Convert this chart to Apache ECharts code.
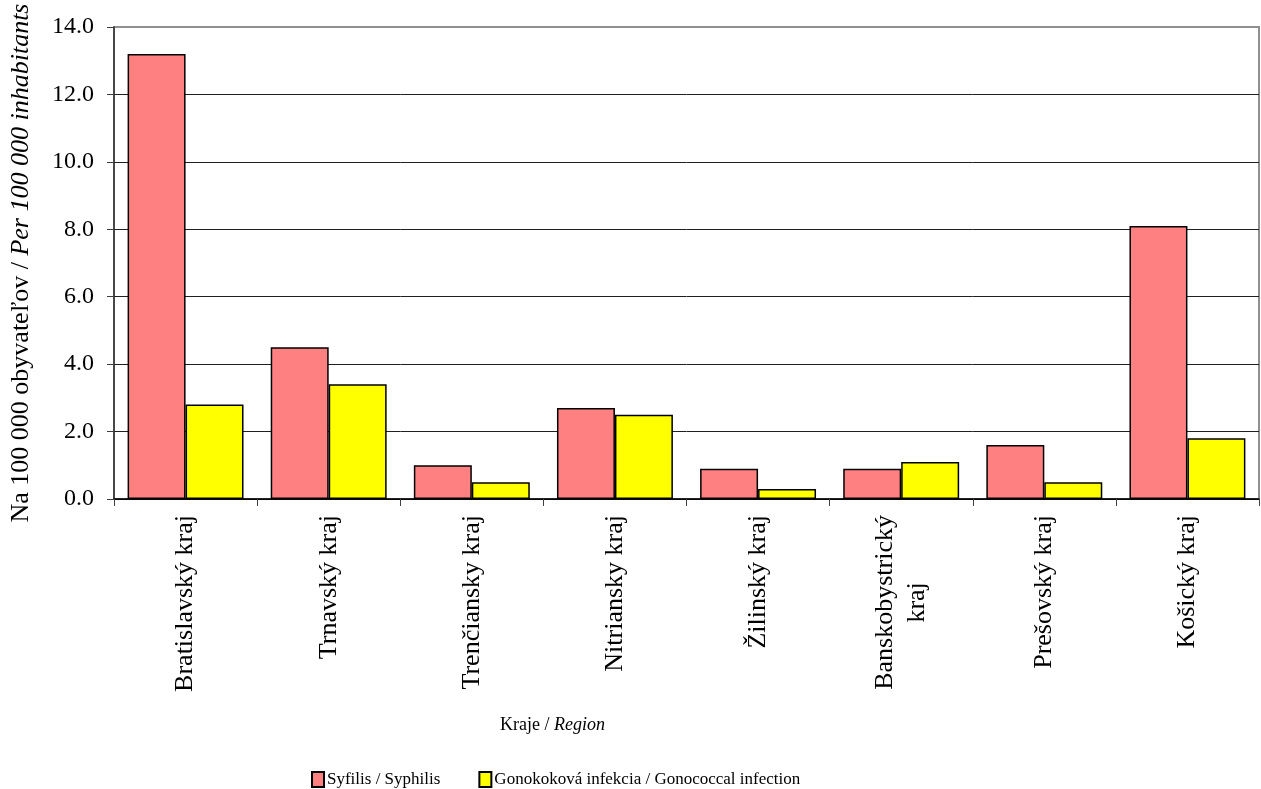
<!DOCTYPE html>
<html><head><meta charset="utf-8">
<script src="https://cdn.jsdelivr.net/npm/echarts@6/dist/echarts.min.js"></script>
<style>html,body{margin:0;padding:0;background:#fff}#c{width:1261px;height:789px}</style>
</head><body><div id="c"></div>
<script>
const categories = ['Bratislavský kraj','Trnavský kraj','Trenčiansky kraj','Nitriansky kraj','Žilinský kraj','Banskobystrický\nkraj','Prešovský kraj','Košický kraj'];
const syphilis = [13.2, 4.5, 1.0, 2.7, 0.9, 0.9, 1.6, 8.1];
const gonorrhea = [2.8, 3.4, 0.5, 2.5, 0.3, 1.1, 0.5, 1.8];
const yTicks = [0, 2, 4, 6, 8, 10, 12, 14];
const seriesNames = ['Syfilis / Syphilis', 'Gonokoková infekcia / Gonococcal infection'];

const FONT = '"Liberation Serif", "Times New Roman", serif';
const chart = echarts.init(document.getElementById('c'), null, {renderer: 'canvas'});
chart.setOption({
  animation: false,
  textStyle: {fontFamily: FONT, color: '#000'},
  grid: {left: 111, right: 2, top: 27, bottom: 290, containLabel: false,
         show: true, borderColor: '#909090', borderWidth: 2, backgroundColor: 'transparent'},
  legend: {
    top: 766, left: 306,
    itemWidth: 12, itemHeight: 15, itemGap: 38,
    icon: 'rect',
    textStyle: {fontFamily: FONT, fontSize: 17, color: '#000', padding: [0,0,0,-2]},
    data: seriesNames
  },
  xAxis: {
    type: 'category',
    data: categories,
    name: 'Kraje / {i|Region}',
    nameLocation: 'middle',
    nameGap: 217,
    nameTextStyle: {fontFamily: FONT, fontSize: 18, color: '#000', padding: [0, 268, 0, 0],
      rich: {i: {fontFamily: FONT, fontSize: 18, fontStyle: 'italic', color: '#000'}}},
    axisLine: {lineStyle: {color: '#000', width: 1.5}},
    axisTick: {show: true, alignWithLabel: false, length: 7, lineStyle: {color: '#404040'}},
    axisLabel: {
      rotate: 90, interval: 0, margin: 16, fontFamily: FONT, fontSize: 26, color: '#000',
      formatter: function (v) {
        if (v.indexOf('\n') >= 0) {
          const p = v.split('\n');
          return '{a|' + p[0] + '}\n{b|' + p[1] + '}';
        }
        return v;
      },
      rich: {
        a: {fontFamily: FONT, fontSize: 26, color: '#000', lineHeight: 32},
        b: {fontFamily: FONT, fontSize: 26, color: '#000', lineHeight: 32, width: 172, align: 'center'}
      }
    }
  },
  yAxis: {
    type: 'value', min: 0, max: 14, interval: 2,
    name: 'Na 100 000 obyvateľov / {i|Per 100 000 inhabitants}',
    nameLocation: 'middle', nameRotate: 90, nameGap: 80,
    nameTextStyle: {fontFamily: FONT, fontSize: 26, color: '#000',
      rich: {i: {fontFamily: FONT, fontSize: 26, fontStyle: 'italic', color: '#000'}}},
    axisLine: {show: true, lineStyle: {color: '#303030', width: 1.5}},
    axisTick: {show: true, length: 7, lineStyle: {color: '#404040'}},
    axisLabel: {margin: 20, fontFamily: FONT, fontSize: 24, color: '#000',
      formatter: function (v) { return yTicks.indexOf(v) >= 0 ? v.toFixed(1) : ''; }},
    splitLine: {show: true, showMaxLine: false, lineStyle: {color: '#202020', width: 1}}
  },
  series: [
    {name: seriesNames[0], type: 'bar', data: syphilis, barGap: '0%', barCategoryGap: '19%',
     itemStyle: {color: '#FF8080', borderColor: '#000', borderWidth: 1.5}},
    {name: seriesNames[1], type: 'bar', data: gonorrhea, barGap: '0%', barCategoryGap: '19%',
     itemStyle: {color: '#FFFF00', borderColor: '#000', borderWidth: 1.5}}
  ]
});
</script></body></html>
